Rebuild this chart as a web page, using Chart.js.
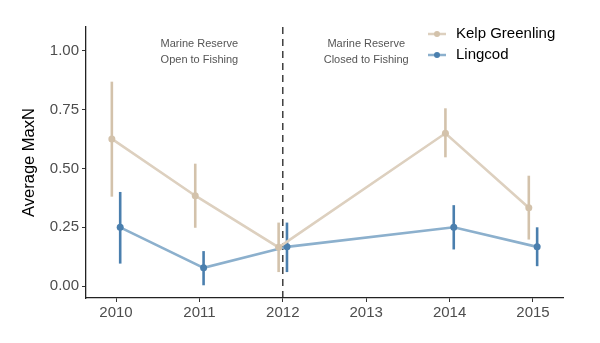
<!DOCTYPE html>
<html>
<head>
<meta charset="utf-8">
<script src="https://cdn.jsdelivr.net/npm/chart.js@4"></script>
<style>
  html, body { margin: 0; padding: 0; background: #fff; }
  #wrap { width: 600px; height: 343px; }
</style>
</head>
<body>
<div id="wrap"><canvas id="maxnChart" width="600" height="343"></canvas></div>
<script>
// Data
const years = [2010, 2011, 2012, 2014, 2015];
const kelpMean = [0.625, 0.384, 0.165, 0.649, 0.333];
const kelpLow = [0.38, 0.248, 0.06, 0.547, 0.198];
const kelpHigh = [0.868, 0.52, 0.27, 0.755, 0.469];
const lingMean = [0.25, 0.078, 0.167, 0.25, 0.167];
const lingLow = [0.096, 0.004, 0.06, 0.156, 0.085];
const lingHigh = [0.40, 0.149, 0.27, 0.344, 0.25];
const xTicks = [2010, 2011, 2012, 2013, 2014, 2015];
const yTicks = [0, 0.25, 0.5, 0.75, 1.0];
const dodge = 0.05;
const reserveYear = 2012;
const notes = [
  { x: 2011, lines: ['Marine Reserve', 'Open to Fishing'] },
  { x: 2013, lines: ['Marine Reserve', 'Closed to Fishing'] }
];

const kelpColor = '#d3c2ab';
const kelpLine = '#ddd0bf';
const lingColor = '#4a7fae';
const lingLine = '#8cb0cd';
const FONT = '"Liberation Sans", Arial, sans-serif';

function points(mean, shift) {
  return years.map((y, i) => ({ x: y + shift, y: mean[i] }));
}

// error bars, dashed line, notes and legend
const extras = {
  id: 'extras',
  beforeDatasetsDraw(chart) {
    const { ctx, scales: { x, y }, chartArea } = chart;
    ctx.save();
    // dashed reserve line
    const px = x.getPixelForValue(reserveYear);
    ctx.strokeStyle = '#222';
    ctx.lineWidth = 1.3;
    ctx.setLineDash([7, 5]);
    ctx.beginPath();
    ctx.moveTo(px, chartArea.top);
    ctx.lineTo(px, chartArea.bottom);
    ctx.stroke();
    ctx.setLineDash([]);

    // error bars
    const bars = [
      [kelpLow, kelpHigh, -dodge, kelpColor],
      [lingLow, lingHigh, dodge, lingColor]
    ];
    bars.forEach(([lo, hi, shift, col]) => {
      ctx.strokeStyle = col;
      ctx.lineWidth = 2.6;
      years.forEach((yr, i) => {
        const bx = x.getPixelForValue(yr + shift);
        ctx.beginPath();
        ctx.moveTo(bx, y.getPixelForValue(lo[i]));
        ctx.lineTo(bx, y.getPixelForValue(hi[i]));
        ctx.stroke();
      });
    });

    // notes
    ctx.fillStyle = '#555';
    ctx.font = '11px ' + FONT;
    ctx.textAlign = 'center';
    ctx.textBaseline = 'middle';
    notes.forEach(n => {
      const nx = x.getPixelForValue(n.x);
      n.lines.forEach((t, k) => ctx.fillText(t, nx, 44 + k * 16));
    });
    ctx.restore();
  },
  afterDraw(chart) {
    const { ctx } = chart;
    const items = [
      ['Kelp Greenling', kelpLine, kelpColor, 34],
      ['Lingcod', lingLine, lingColor, 55]
    ];
    ctx.save();
    items.forEach(([label, line, dot, ly]) => {
      ctx.strokeStyle = line;
      ctx.lineWidth = 2.5;
      ctx.beginPath();
      ctx.moveTo(428, ly);
      ctx.lineTo(446, ly);
      ctx.stroke();
      ctx.fillStyle = dot;
      ctx.beginPath();
      ctx.arc(437, ly, 3, 0, Math.PI * 2);
      ctx.fill();
      ctx.fillStyle = '#000';
      ctx.font = '15px ' + FONT;
      ctx.textAlign = 'left';
      ctx.textBaseline = 'middle';
      ctx.fillText(label, 456, ly);
    });
    ctx.restore();
  }
};

new Chart(document.getElementById('maxnChart'), {
  type: 'line',
  data: {
    datasets: [
      {
        label: 'Kelp Greenling',
        data: points(kelpMean, -dodge),
        borderColor: kelpLine,
        backgroundColor: kelpColor,
        pointBackgroundColor: kelpColor,
        pointBorderWidth: 0,
        pointRadius: 3.5,
        borderWidth: 2.6,
        tension: 0
      },
      {
        label: 'Lingcod',
        data: points(lingMean, dodge),
        borderColor: lingLine,
        backgroundColor: lingColor,
        pointBackgroundColor: lingColor,
        pointBorderWidth: 0,
        pointRadius: 3.5,
        borderWidth: 2.6,
        tension: 0
      }
    ]
  },
  options: {
    responsive: false,
    animation: false,
    layout: { padding: { top: 27, right: 37, left: 0, bottom: 0 } },
    plugins: {
      legend: { display: false },
      tooltip: { enabled: false }
    },
    scales: {
      x: {
        type: 'linear',
        min: 2009.64,
        max: 2015.36,
        afterBuildTicks: s => { s.ticks = xTicks.map(v => ({ value: v })); },
        afterFit: s => { s.height = 45; },
        grid: { drawOnChartArea: false, drawTicks: true, tickLength: 4, color: '#333' },
        border: { color: '#222', width: 1.3 },
        ticks: {
          color: '#4d4d4d',
          font: { family: FONT, size: 15 },
          padding: 2,
          maxRotation: 0,
          callback: v => String(v)
        }
      },
      y: {
        type: 'linear',
        min: -0.05,
        max: 1.1,
        afterBuildTicks: s => { s.ticks = yTicks.map(v => ({ value: v })); },
        afterFit: s => { s.width = 86; },
        grid: { drawOnChartArea: false, drawTicks: true, tickLength: 4, color: '#333' },
        border: { color: '#222', width: 1.3 },
        ticks: {
          color: '#4d4d4d',
          font: { family: FONT, size: 15 },
          padding: 3,
          callback: v => v.toFixed(2)
        },
        title: {
          display: true,
          text: 'Average MaxN',
          color: '#000',
          font: { family: FONT, size: 16.5 },
          padding: { top: 20, bottom: 0 }
        }
      }
    }
  },
  plugins: [extras]
});
</script>
</body>
</html>
